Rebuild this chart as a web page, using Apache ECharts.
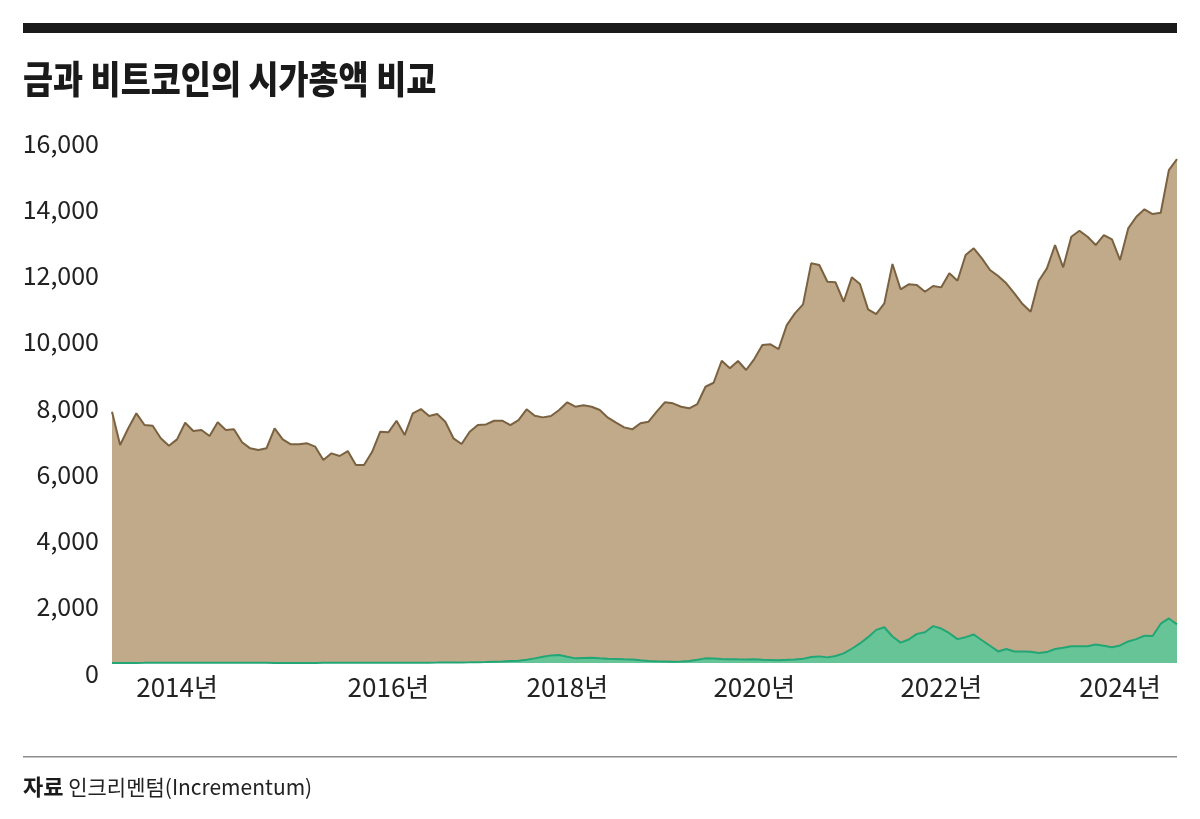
<!DOCTYPE html>
<html>
<head>
<meta charset="utf-8">
<script src="https://cdn.jsdelivr.net/npm/echarts@6/dist/echarts.min.js"></script>
<style>
  html, body { margin: 0; padding: 0; background: #ffffff; }
  #chart { width: 1200px; height: 819px; }
</style>
</head>
<body>
<div id="chart"></div>
<script>
// Monthly categories, 2013-07 .. 2024-06 (132 months)
const startYear = 2013, startMonth = 7, monthCount = 132;
const categories = [];
for (let k = 0; k < monthCount; k++) {
  const m = startMonth - 1 + k;
  const y = startYear + Math.floor(m / 12);
  const mm = (m % 12) + 1;
  categories.push(y + '-' + (mm < 10 ? '0' + mm : '' + mm));
}

// Gold market cap (billion USD)
const gold = [
  7586, 6580, 7085, 7537, 7184, 7163, 6783, 6560, 6752, 7254,
  7003, 7033, 6852, 7265, 7033, 7054, 6662, 6480, 6429, 6480,
  7085, 6752, 6601, 6601, 6632, 6530, 6127, 6329, 6249, 6399,
  5976, 5976, 6377, 6982, 6963, 7314, 6882, 7537, 7667, 7456,
  7516, 7284, 6783, 6611, 6982, 7184, 7203, 7314, 7314, 7184,
  7335, 7658, 7465, 7415, 7456, 7637, 7870, 7737, 7778, 7737,
  7637, 7406, 7254, 7114, 7054, 7236, 7284, 7586, 7870, 7838,
  7737, 7688, 7818, 8340, 8461, 9125, 8895, 9116, 8845, 9176,
  9599, 9620, 9478, 10202, 10556, 10827, 12065, 12014, 11510, 11491,
  10906, 11643, 11440, 10676, 10535, 10858, 12045, 11281, 11432, 11410,
  11208, 11380, 11340, 11763, 11540, 12315, 12518, 12215, 11863, 11682,
  11461, 11160, 10837, 10605, 11540, 11914, 12618, 11945, 12868, 13049,
  12868, 12618, 12920, 12789, 12164, 13120, 13472, 13695, 13554, 13593,
  14881, 15213
];

// Bitcoin market cap (billion USD)
const bitcoin = [
  1, 1, 2, 2, 5, 10, 10, 8, 7, 6,
  6, 8, 8, 7, 6, 5, 5, 5, 4, 4,
  3, 3, 3, 3, 3, 3, 4, 5, 6, 6,
  6, 6, 7, 8, 9, 10, 9, 10, 11, 11,
  12, 15, 16, 18, 20, 25, 30, 40, 45, 60,
  70, 100, 140, 190, 230, 244, 190, 140, 150, 155,
  140, 127, 120, 110, 106, 80, 60, 50, 45, 40,
  45, 60, 95, 140, 135, 120, 115, 110, 106, 110,
  95, 90, 85, 95, 106, 125, 180, 200, 170, 210,
  290, 430, 590, 780, 1000, 1080, 800, 614, 710, 879,
  930, 1112, 1040, 900, 720, 780, 860, 688, 520, 349,
  424, 349, 345, 339, 300, 330, 424, 460, 508, 508,
  508, 561, 520, 477, 530, 650, 720, 826, 815, 1186,
  1345, 1165
];

// X tick labels and the months where the reference prints them
const xTickMonths = ['2014-03', '2016-05', '2018-03', '2020-02', '2022-01', '2023-11'];
const xTickLabels = ['2014년', '2016년', '2018년', '2020년', '2022년', '2024년'];

// Y axis range
const yMin = 0, yMax = 16000, yStep = 2000;

const titleText = '금과 비트코인의 시가총액 비교';
const sourceBold = '자료';
const sourceText = ' 인크리멘텀(Incrementum)';

const FONT = '"Noto Sans CJK KR", "Noto Sans", Roboto, sans-serif';

const chart = echarts.init(document.getElementById('chart'), null, { renderer: 'canvas' });

chart.setOption({
  animation: false,
  backgroundColor: '#ffffff',
  grid: { left: 112, right: 23, top: 133, bottom: 156, containLabel: false },
  xAxis: {
    type: 'category',
    data: categories,
    boundaryGap: false,
    axisLine: { show: false },
    axisTick: { show: false },
    splitLine: { show: false },
    axisLabel: {
      interval: function (idx, val) { return xTickMonths.indexOf(val) >= 0; },
      formatter: function (val) {
        const k = xTickMonths.indexOf(val);
        return k >= 0 ? xTickLabels[k] : '';
      },
      color: '#222222',
      fontSize: 26,
      fontFamily: FONT,
      margin: 11
    }
  },
  yAxis: {
    type: 'value',
    min: yMin,
    max: yMax,
    interval: yStep,
    axisLine: { show: false },
    axisTick: { show: false },
    splitLine: { show: false },
    axisLabel: {
      color: '#222222',
      fontSize: 25,
      lineHeight: 20,
      fontFamily: FONT,
      margin: 13,
      verticalAlign: 'top',
      formatter: function (v) { return v.toLocaleString('en-US'); }
    }
  },
  series: [
    {
      name: '금',
      type: 'line',
      data: gold,
      symbol: 'none',
      lineStyle: { color: '#7a6140', width: 2 },
      areaStyle: { color: '#c1aa8a', opacity: 1 },
      z: 2
    },
    {
      name: '비트코인',
      type: 'line',
      data: bitcoin,
      symbol: 'none',
      lineStyle: { color: '#22a676', width: 2 },
      areaStyle: { color: '#66c497', opacity: 1 },
      z: 3
    }
  ],
  graphic: [
    {
      type: 'rect',
      shape: { x: 23, y: 23, width: 1154, height: 10 },
      style: { fill: '#1a1a1a' }
    },
    {
      type: 'text',
      x: 23, y: 79,
      scaleX: 0.86,
      style: {
        text: titleText,
        font: '900 38px ' + FONT,
        fill: '#1a1a1a',
        verticalAlign: 'middle',
        align: 'left'
      }
    },
    {
      type: 'rect',
      shape: { x: 23, y: 756, width: 1154, height: 1.5 },
      style: { fill: '#8c8c8c' }
    },
    {
      type: 'text',
      x: 23, y: 787,
      style: {
        text: '{b|' + sourceBold + '}{r|' + sourceText + '}',
        verticalAlign: 'middle',
        align: 'left',
        rich: {
          b: { font: 'bold 22px ' + FONT, fill: '#1a1a1a' },
          r: { font: '21px ' + FONT, fill: '#222222' }
        }
      }
    }
  ]
});
</script>
</body>
</html>
